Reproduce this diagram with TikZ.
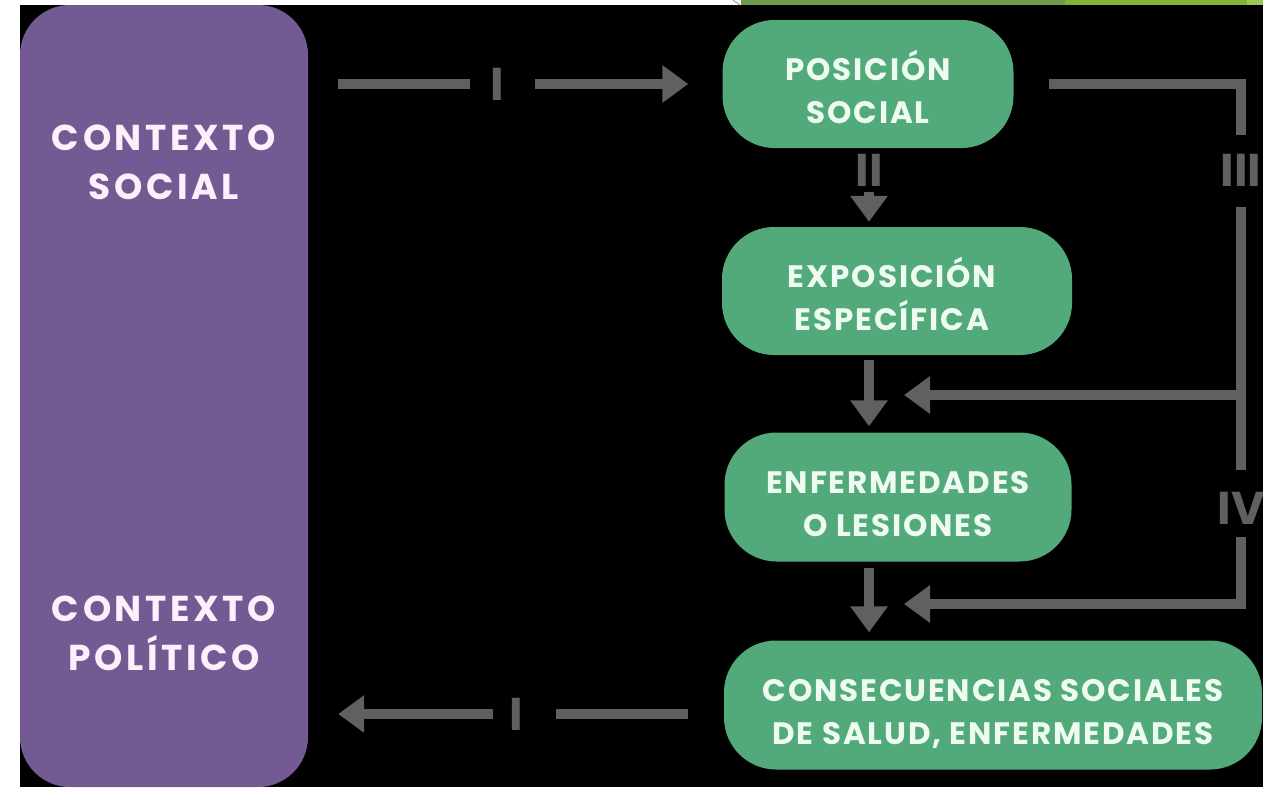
\documentclass[tikz,border=0pt]{standalone}
\usepackage{fontspec}
\newfontfamily\boxfont{Poppins}[LetterSpace=6]
\newfontfamily\ctxfont{Poppins}[LetterSpace=10]
\newfontfamily\numfont{Poppins}
\usetikzlibrary{arrows.meta}
\definecolor{purplebox}{HTML}{735A93}
\definecolor{greenbox}{HTML}{52AA7B}
\definecolor{arrowgray}{HTML}{606060}
\definecolor{greentext}{HTML}{EEFBF1}
\definecolor{purpletext}{HTML}{FCF0FC}
\definecolor{barolive}{HTML}{6F9B4F}
\definecolor{barlime}{HTML}{84B332}
\definecolor{barlight}{HTML}{9CC65A}
\tikzset{
  greenbox/.style={rectangle, rounded corners=52pt, fill=greenbox, inner sep=0pt},
  greentxt/.style={text=greentext, font=\boxfont\bfseries\fontsize{31}{43}\selectfont,
    align=center, inner sep=0pt},
  purpletxt/.style={text=purpletext, font=\ctxfont\bfseries\fontsize{36}{49}\selectfont,
    align=center, inner sep=0pt},
  numlbl/.style={text=arrowgray, font=\numfont\bfseries\fontsize{46}{46}\selectfont, inner sep=0pt},
  conn/.style={draw=arrowgray, line width=10pt},
  arr/.style={conn, -{Triangle[length=26pt,width=36pt]}}
}
\begin{document}
\begin{tikzpicture}[x=1pt,y=-1pt]
\useasboundingbox (0,0) rectangle (1263,787);
\fill[white] (0,0) rectangle (1263,787);
\fill[black] (20,5) rectangle (1263,787);
% slide decoration at the top edge
\fill[barolive] (741,0) rectangle (1065,5);
\fill[barlime] (1065,0) rectangle (1247,5);
\fill[barlight] (1247,0) rectangle (1263,5);
\draw[gray!70, line width=1pt] (733,0) -- (740,5);

% context box
\node[rectangle, rounded corners=50pt, fill=purplebox, minimum width=288pt, minimum height=782pt, inner sep=0pt] (ctx) at (164,396) {};
\node[purpletxt] (ctxs) at (164,162) {CONTEXTO\\SOCIAL};
\node[purpletxt] (ctxp) at (164,633) {CONTEXTO\\POLÍTICO};

% green boxes
\node[greenbox, minimum width=291pt, minimum height=128pt] (pos) at (868,84) {};
\node[greentxt] (posT) at ([yshift=-3pt]pos.center) {POSICIÓN\\SOCIAL};
\node[greenbox, minimum width=350pt, minimum height=128pt] (exp) at (897,291) {};
\node[greentxt] (expT) at ([xshift=-5pt,yshift=-3pt]exp.center) {EXPOSICIÓN\\ESPECÍFICA};
\node[greenbox, minimum width=347pt, minimum height=129pt] (enf) at (898,497) {};
\node[greentxt] (enfT) at ([yshift=-7pt]enf.center) {ENFERMEDADES\\O LESIONES};
\node[greenbox, minimum width=538pt, minimum height=129pt] (con) at (993,705) {};
\node[greentxt] (conT) at ([yshift=-9pt]con.center) {CONSECUENCIAS SOCIALES\\DE SALUD, ENFERMEDADES};

% roman numeral labels
\node[numlbl] (i1) at (497,84) {I};
\node[numlbl] (i2) at (516,714) {I};
\node[numlbl] (ii) at (869,170) {II};
\node[numlbl] (iii) at (1241,170) {III};
\node[numlbl] (iv) at (1241,508) {IV};
\coordinate (j3) at (1241,395);
\coordinate (t3) at (904,395);
\coordinate (t4) at (904,604);

% I (top)
\draw[conn] ([xshift=30pt]ctx.east |- i1) -- ([xshift=-27pt]i1.center);
\draw[arr] ([xshift=38pt]i1.center) -- ([xshift=-34pt]pos.west);
% I (bottom)
\draw[conn] ([xshift=-36pt]con.west |- i2) -- ([xshift=40pt]i2.center);
\draw[arr] ([xshift=-23pt]i2.center) -- ([xshift=30pt]ctx.east |- i2);
% II and the vertical chain
\draw[arr] ([yshift=-22pt]ii.center) -- ([yshift=5pt]ii |- exp.north);
\draw[arr] ([yshift=-5pt]ii |- exp.south) -- ([yshift=6pt]ii |- enf.north);
\draw[arr] ([yshift=-6pt]ii |- enf.south) -- ([yshift=8pt]ii |- con.north);
% III
\draw[conn] ([xshift=35pt]pos.east) -| ([yshift=35pt]iii.center);
\draw[conn] ([yshift=-37pt]iii.center) -- ([yshift=38pt]iv.center);
\draw[arr] (j3) -- (t3);
% IV
\draw[arr] ([yshift=-29pt]iv.center) |- (t4);
\end{tikzpicture}
\end{document}
